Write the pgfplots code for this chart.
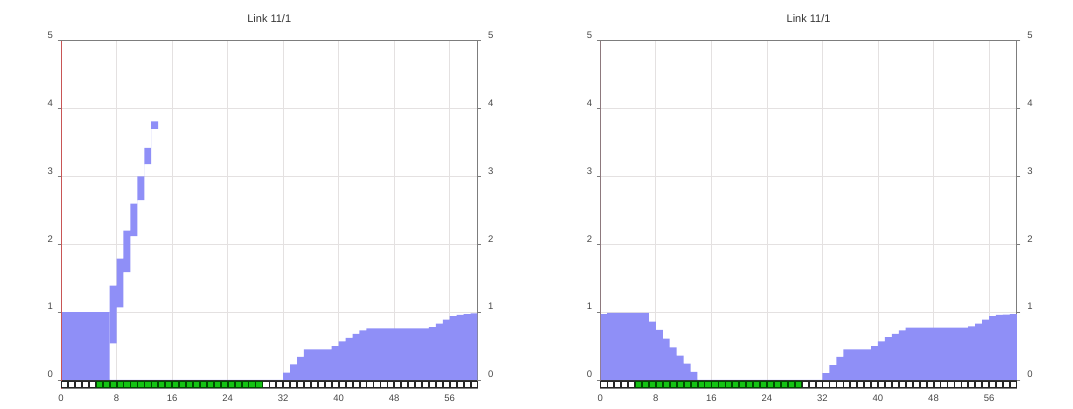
\documentclass[border=0pt]{standalone}
\usepackage{pgfplots}
\pgfplotsset{compat=1.18}
\usepackage{pgfplotstable}
\usepgfplotslibrary{fillbetween}
\usepackage{fontspec}
\setmainfont{Liberation Sans}

\definecolor{barblue}{RGB}{143,143,247}
\definecolor{cellgreen}{RGB}{20,195,20}
\definecolor{gridc}{RGB}{228,225,225}
\definecolor{spinered}{RGB}{200,85,85}
\definecolor{spinemauve}{RGB}{150,120,125}
\definecolor{spinegray}{RGB}{125,125,125}
\definecolor{labelc}{RGB}{70,70,70}

% cells of the bottom row
\pgfplotstableread{
x y
0.5 -0.062
1.5 -0.062
2.5 -0.062
3.5 -0.062
4.5 -0.062
29.5 -0.062
30.5 -0.062
31.5 -0.062
32.5 -0.062
33.5 -0.062
34.5 -0.062
35.5 -0.062
36.5 -0.062
37.5 -0.062
38.5 -0.062
39.5 -0.062
40.5 -0.062
41.5 -0.062
42.5 -0.062
43.5 -0.062
44.5 -0.062
45.5 -0.062
46.5 -0.062
47.5 -0.062
48.5 -0.062
49.5 -0.062
50.5 -0.062
51.5 -0.062
52.5 -0.062
53.5 -0.062
54.5 -0.062
55.5 -0.062
56.5 -0.062
57.5 -0.062
58.5 -0.062
59.5 -0.062
}\whitecells
\pgfplotstableread{
x y
5.5 -0.062
6.5 -0.062
7.5 -0.062
8.5 -0.062
9.5 -0.062
10.5 -0.062
11.5 -0.062
12.5 -0.062
13.5 -0.062
14.5 -0.062
15.5 -0.062
16.5 -0.062
17.5 -0.062
18.5 -0.062
19.5 -0.062
20.5 -0.062
21.5 -0.062
22.5 -0.062
23.5 -0.062
24.5 -0.062
25.5 -0.062
26.5 -0.062
27.5 -0.062
28.5 -0.062
}\greencells

% left panel: main area
\pgfplotstableread{
x y
0 1.0
7 0
32 0.107
33 0.23
34 0.34
35 0.45
39 0.50
40 0.57
41 0.62
42 0.68
43 0.73
44 0.76
53 0.78
54 0.83
55 0.89
56 0.94
57 0.96
58 0.97
59 0.98
60 0.98
}\leftmain
% left panel: floating bars (upper and lower bounds)
\pgfplotstableread{
x hi lo
7 1.39 0.54
8 1.79 1.07
9 2.20 1.59
10 2.60 2.12
11 3.00 2.65
12 3.42 3.18
13 3.81 3.70
14 3.81 3.70
}\leftfloat
% right panel: main area
\pgfplotstableread{
x y
0 0.97
1 0.99
7 0.86
8 0.74
9 0.61
10 0.48
11 0.36
12 0.24
13 0.12
14 0
32 0.10
33 0.22
34 0.34
35 0.45
39 0.50
40 0.57
41 0.63
42 0.68
43 0.73
44 0.77
53 0.79
54 0.83
55 0.89
56 0.94
57 0.96
58 0.965
59 0.97
60 0.97
}\rightmain

\pgfplotsset{
  panel/.style={
    anchor=south west, scale only axis,
    width=416.5pt, height=348.1pt,
    xmin=0, xmax=60, ymin=-0.13, ymax=5,
    xtick={0,8,...,56}, ytick={0,1,...,5},
    xmajorgrids, ymajorgrids,
    major grid style={gridc, line width=0.8pt},
    axis line style={spinegray, line width=1pt},
    xtick style={draw=none},
    ytick style={draw=spinegray, line width=0.8pt},
    tick align=outside, major tick length=3.5pt,
    /pgf/number format/assume math mode=true,
    tick label style={font=\fontsize{9.5}{11}\selectfont, text=labelc},
    yticklabel style={anchor=east, yshift=5.5pt, xshift=-1pt},
    xticklabel style={yshift=1pt},
    title={Link 11/1},
    title style={at={(0.5,1)}, anchor=base, yshift=12.4pt,
      font=\fontsize{11}{13}\selectfont, text=black!80},
    axis on top=false,
  },
  overlayaxis/.style={
    anchor=south west, scale only axis,
    width=416.5pt, height=348.1pt,
    xmin=0, xmax=60, ymin=-0.13, ymax=5,
    hide x axis, axis y line*=right,
    y axis line style={draw=none},
    ytick={0,1,...,5}, ytick style={draw=none},
    /pgf/number format/assume math mode=true,
    tick label style={font=\fontsize{9.5}{11}\selectfont, text=labelc},
    yticklabel style={anchor=west, yshift=5.5pt, xshift=7pt},
  },
  cellsw/.style={only marks, mark=square*, mark size=3.1pt,
    mark options={fill=white, draw=black!85, line width=0.7pt}},
  cellsg/.style={only marks, mark=square*, mark size=3.1pt,
    mark options={fill=cellgreen, draw=black!70!green, line width=0.7pt}},
}

\begin{document}
\begin{tikzpicture}
\path (0,0) rectangle (1073pt,408pt);

% ---------- left panel ----------
\begin{axis}[panel, at={(61pt,19.2pt)}]
  \addplot[fill=barblue, draw=none, const plot] table[x=x, y=y] {\leftmain} \closedcycle;
  \addplot[name path=hiL, draw=none, const plot, forget plot] table[x=x, y=hi] {\leftfloat};
  \addplot[name path=loL, draw=none, const plot, forget plot] table[x=x, y=lo] {\leftfloat};
  \addplot[fill=barblue, draw=none] fill between[of=hiL and loL];
  \addplot[draw=black!80, line width=0.9pt] coordinates {(0,0) (60,0)};
  \addplot[cellsw] table {\whitecells};
  \addplot[cellsg] table {\greencells};
  \draw[spinered, line width=1.1pt] (rel axis cs:0,0) -- (rel axis cs:0,1);
\end{axis}
\begin{axis}[overlayaxis, at={(61pt,19.2pt)}]
  \addplot[draw=none] coordinates {(0,0)};
\end{axis}

% ---------- right panel ----------
\begin{axis}[panel, at={(600.3pt,19.2pt)}]
  \addplot[fill=barblue, draw=none, const plot] table[x=x, y=y] {\rightmain} \closedcycle;
  \addplot[draw=black!80, line width=0.9pt] coordinates {(0,0) (60,0)};
  \addplot[cellsw] table {\whitecells};
  \addplot[cellsg] table {\greencells};
  \draw[spinemauve, line width=1.1pt] (rel axis cs:0,0) -- (rel axis cs:0,1);
\end{axis}
\begin{axis}[overlayaxis, at={(600.3pt,19.2pt)}]
  \addplot[draw=none] coordinates {(0,0)};
\end{axis}
\end{tikzpicture}
\end{document}
